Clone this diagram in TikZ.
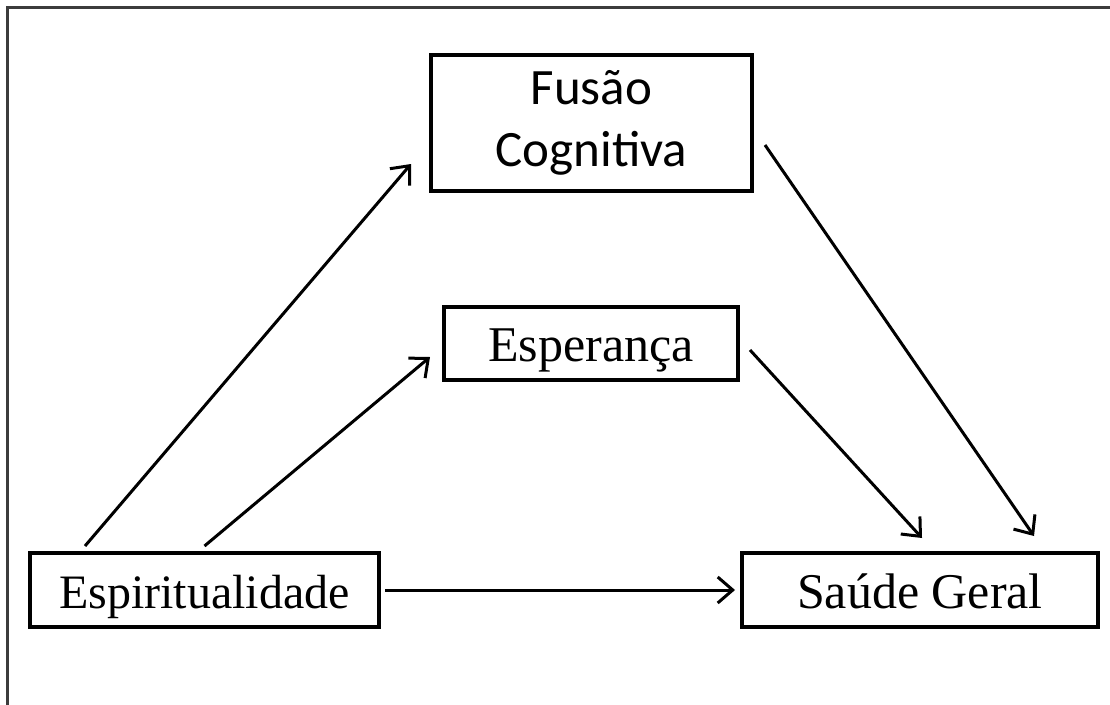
\documentclass[tikz,border=0pt]{standalone}
\usepackage{fontspec}
\setmainfont{Liberation Serif}
\newfontfamily\calibrifont{Carlito}
\usepackage{tikz}
\usetikzlibrary{arrows.meta,positioning}
\definecolor{framegray}{RGB}{60,60,60}
\tikzstyle{arrow} = [line width=3pt,-{Straight Barb[length=15pt,width=26pt,line width=3pt]}]
\tikzstyle{varbox} = [rectangle, draw, line width=4pt, inner sep=0pt, text centered, text height=36pt, text depth=0pt, font=\fontsize{50}{60}\selectfont]

\begin{document}
\begin{tikzpicture}[x=1pt, y=-1pt]
    \clip (0,0) rectangle (1110,704);
    % Frame
    \draw[line width=3pt, framegray] (7,7) rectangle (1120,720);

    % Variables
    \node[varbox, minimum width=321pt, minimum height=136pt, align=center, text height=, text depth=,
          font=\calibrifont\fontsize{51}{62}\selectfont] (fusao) at (591.5,123) {Fusão\\Cognitiva};
    \node[varbox, minimum width=294pt, minimum height=73pt] (esper) at (591,343.5) {Esperança};
    \node[varbox, minimum width=349pt, minimum height=74pt, font=\fontsize{48}{60}\selectfont] (espir) at (204.5,590) {Espiritualidade};
    \node[varbox, minimum width=356pt, minimum height=74pt] (saude) at (920,590) {Saúde Geral};

    % Paths
    \draw[arrow] ([xshift=57pt,yshift=5pt]espir.north west) -- ([xshift=-18pt,yshift=-41pt]fusao.west);
    \draw[arrow] ([yshift=5pt]espir.north) -- ([xshift=-12pt,yshift=-13.5pt]esper.west);
    \draw[arrow, shorten <=4pt, shorten >=5pt] (espir.east) -- (saude.west);
    \draw[arrow] ([xshift=10pt,yshift=-6.5pt]esper.east) -- ([xshift=2pt,yshift=13pt]saude.north);
    \draw[arrow] ([xshift=11pt,yshift=-22pt]fusao.east) -- ([xshift=-66pt,yshift=15pt]saude.north east);
\end{tikzpicture}
\end{document}
